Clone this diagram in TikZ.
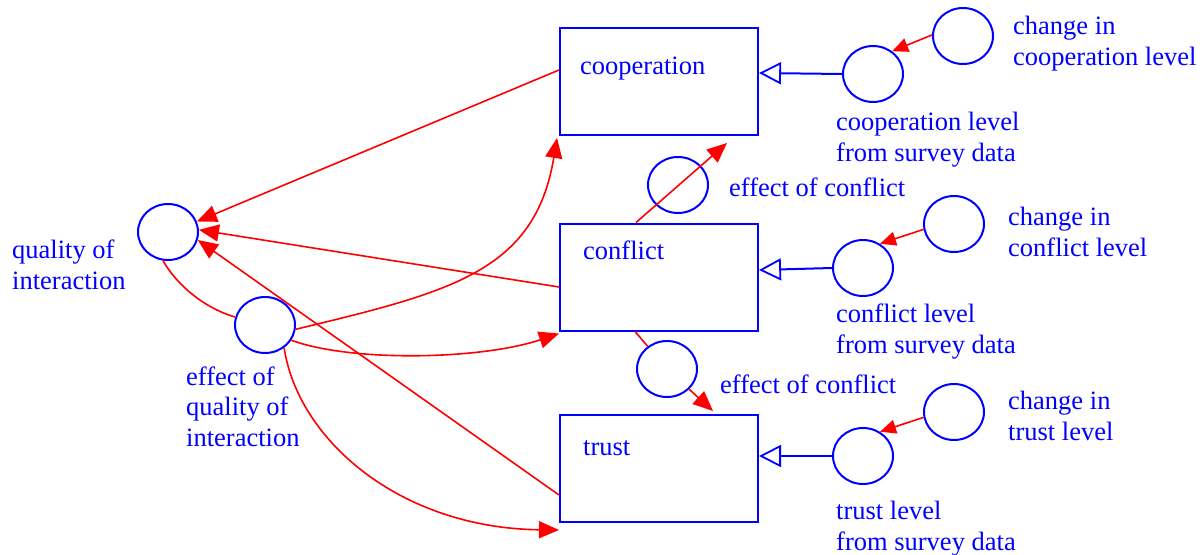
\documentclass[tikz,border=0pt]{standalone}
\usepackage{fontspec}
\setmainfont{Liberation Serif}
\usetikzlibrary{arrows.meta,shapes.geometric}

\begin{document}
\begin{tikzpicture}[x=1pt,y=-1pt,
  stock/.style={draw=blue, line width=2pt, minimum width=198pt, minimum height=107pt, inner sep=0pt},
  aux/.style={draw=blue, line width=2pt, ellipse, minimum width=60pt, minimum height=56pt, inner sep=0pt},
  lbl/.style={text=blue, font=\fontsize{26.5}{30.5}\selectfont, align=left, anchor=base west, inner sep=0pt},
  link/.style={draw=red, line width=1.6pt, -{Triangle[length=20pt,width=17pt]}},
  plainlink/.style={draw=red, line width=1.6pt},
  smalllink/.style={draw=red, line width=1.6pt, -{Triangle[length=16pt,width=14pt]}},
  flow/.style={draw=blue, line width=2pt, -{Triangle[open,length=22pt,width=22pt,line width=1.8pt]}}
]
\useasboundingbox (0,0) rectangle (1204,554);

% stocks
\node[stock] (coop)  at (659,81.5) {};
\node[stock] (conf)  at (659,277)  {};
\node[stock] (trust) at (659,468.5) {};
\node[lbl] (coopT)  at (580,74)  {cooperation};
\node[lbl] (confT)  at (583,259) {conflict};
\node[lbl] (trustT) at (583,455) {trust};

% auxiliaries
\node[aux] (qual) at (168,232) {};
\node[aux] (effq) at (265,325) {};
\node[aux] (ecA)  at (678,185) {};
\node[aux] (ecB)  at (667,369) {};
\node[aux] (clev) at (873,74)  {};
\node[aux] (cchg) at (963,36)  {};
\node[aux] (flev) at (863,268) {};
\node[aux] (fchg) at (954,224) {};
\node[aux] (tlev) at (863,456) {};
\node[aux] (tchg) at (954,412) {};

% labels (anchored at the baseline of their last line)
\node[lbl] (qualT) at (12,289)  {quality of\\interaction};
\node[lbl] (effqT) at (186,446) {effect of\\quality of\\interaction};
\node[lbl] (ecAT)  at (729,196) {effect of conflict};
\node[lbl] (ecBT)  at (720,393) {effect of conflict};
\node[lbl] (clevT) at (836,161) {cooperation level\\from survey data};
\node[lbl] (cchgT) at (1013,65) {change in\\cooperation level};
\node[lbl] (flevT) at (836,353) {conflict level\\from survey data};
\node[lbl] (fchgT) at (1008,256) {change in\\conflict level};
\node[lbl] (tlevT) at (836,550) {trust level\\from survey data};
\node[lbl] (tchgT) at (1008,440) {change in\\trust level};

% stocks feeding quality of interaction
\draw[link] ([yshift=11.5pt]coop.west) -- (qual.20);
\draw[link] ([yshift=-10pt]conf.west) -- (qual.4);
\draw[link] ([yshift=-26.5pt]trust.west) -- (qual.-15);

% quality of interaction and its effect
\draw[plainlink] (qual.-100) .. controls (180,290) and (210,310) .. (effq.165);
\draw[link] (effq.-8) .. controls (450,292) and (535,272) .. ([xshift=-2pt,yshift=-2pt]coop.south west);
\draw[link] (effq.-30) .. controls (350,362) and (480,360) .. ([yshift=-2pt]conf.south west);
\draw[link] (effq.-50) .. controls (298,440) and (400,528) .. ([yshift=-7pt]trust.south west);

% effect of conflict on cooperation and trust
\draw[link] ([xshift=-23pt]conf.north) -- ([xshift=68pt,yshift=-7pt]coop.south);
\draw[plainlink] ([xshift=-24pt]conf.south) -- (ecB);
\draw[link] (ecB) -- ([xshift=54pt,yshift=3pt]trust.north);

% survey data inputs
\draw[flow] (clev.west) -- ([yshift=8.5pt]coop.east);
\draw[flow] (flev.west) -- ([yshift=7pt]conf.east);
\draw[flow] (tlev.west) -- ([yshift=12.5pt]trust.east);

\draw[smalllink] (cchg.178) -- (clev.50);
\draw[smalllink] (fchg.190) -- (flev.55);
\draw[smalllink] (tchg.190) -- (tlev.55);
\end{tikzpicture}
\end{document}
